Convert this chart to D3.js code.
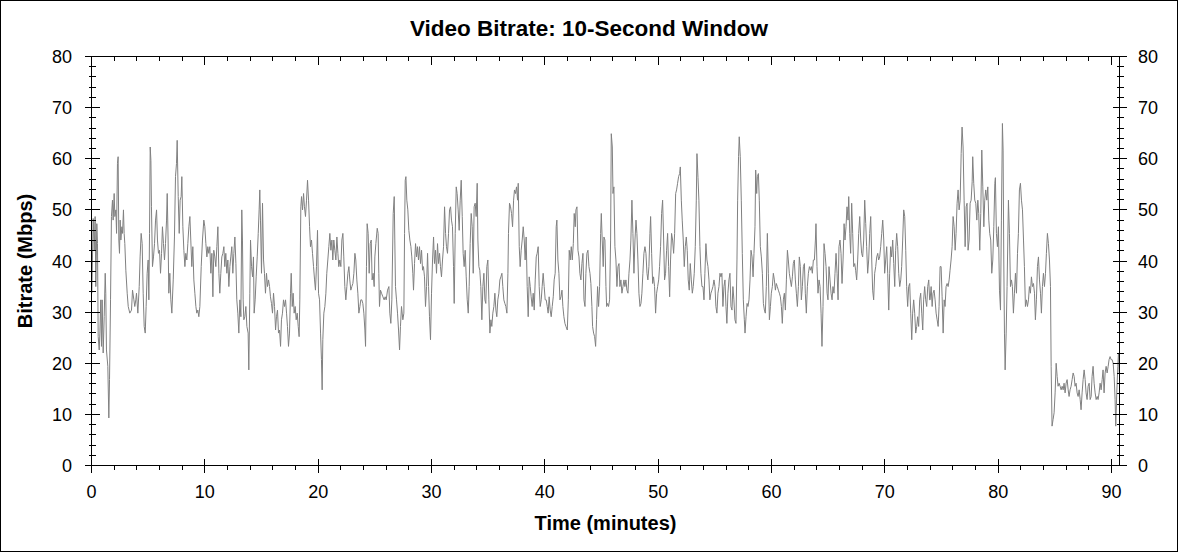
<!DOCTYPE html>
<html>
<head>
<meta charset="utf-8">
<script src="https://cdn.jsdelivr.net/npm/d3@7"></script>
<style>
  body { margin: 0; background: #fff; }
  svg { display: block; font-family: "Liberation Sans", Arial, sans-serif; }
</style>
</head>
<body>
<div id="chart"></div>
<script>
// time in minutes
const minutes = [
  0.03,0.15,0.24,0.32,0.38,0.47,0.53,0.59,0.68,0.74,0.82,0.88,0.94,1.03,1.12,1.21,1.26,1.32,1.44,1.53,
  1.59,1.68,1.76,1.85,1.91,2.00,2.06,2.15,2.21,2.29,2.35,2.41,2.47,2.53,2.59,2.68,2.74,2.82,2.88,2.94,
  3.03,3.15,3.24,3.38,3.53,3.62,3.74,3.82,3.91,3.97,4.09,4.21,4.29,4.38,4.47,4.56,4.65,4.74,4.82,4.91,
  5.00,5.06,5.12,5.18,5.24,5.29,5.38,5.47,5.56,5.65,5.74,5.82,5.91,6.00,6.09,6.18,6.26,6.35,6.44,6.53,
  6.62,6.68,6.76,6.82,6.91,7.00,7.09,7.21,7.32,7.41,7.50,7.56,7.65,7.74,7.82,7.91,7.97,8.06,8.15,8.24,
  8.32,8.41,8.50,8.59,8.68,8.76,8.85,8.94,9.03,9.12,9.21,9.29,9.38,9.47,9.56,9.68,9.79,9.91,10.00,10.09,
  10.18,10.26,10.35,10.44,10.53,10.62,10.71,10.79,10.88,10.97,11.06,11.15,11.24,11.32,11.41,11.50,11.59,11.68,11.76,11.85,
  11.94,12.03,12.12,12.21,12.29,12.38,12.47,12.56,12.65,12.74,12.82,12.91,13.00,13.09,13.18,13.26,13.32,13.38,13.44,13.53,
  13.62,13.71,13.82,13.88,13.97,14.03,14.12,14.21,14.29,14.35,14.44,14.53,14.62,14.71,14.79,14.85,14.91,15.00,15.09,15.18,
  15.26,15.35,15.44,15.53,15.62,15.71,15.79,15.88,15.97,16.06,16.15,16.24,16.32,16.41,16.50,16.59,16.68,16.76,16.85,16.94,
  17.03,17.12,17.21,17.29,17.38,17.47,17.56,17.62,17.71,17.79,17.88,17.97,18.06,18.15,18.24,18.32,18.38,18.47,18.53,18.62,
  18.71,18.79,18.88,18.97,19.06,19.15,19.24,19.32,19.41,19.50,19.59,19.68,19.76,19.85,19.94,20.03,20.12,20.21,20.29,20.35,
  20.41,20.50,20.59,20.68,20.76,20.85,20.94,21.03,21.12,21.21,21.29,21.38,21.47,21.56,21.65,21.74,21.82,21.91,22.00,22.09,
  22.18,22.26,22.35,22.44,22.53,22.62,22.71,22.79,22.88,22.97,23.06,23.15,23.24,23.32,23.41,23.50,23.59,23.68,23.76,23.85,
  23.94,24.03,24.12,24.18,24.26,24.32,24.41,24.50,24.59,24.68,24.76,24.85,24.94,
  25.00,25.09,25.21,25.29,25.35,25.41,25.50,25.59,25.71,25.82,25.91,26.00,26.12,26.24,26.32,26.41,26.50,26.62,26.71,26.76,
  26.82,26.91,27.00,27.09,27.18,27.26,27.35,27.47,27.56,27.62,27.68,27.74,27.82,27.91,28.00,28.09,28.18,28.26,28.35,28.41,
  28.50,28.59,28.68,28.76,28.85,28.94,29.03,29.12,29.21,29.29,29.38,29.47,29.56,29.65,29.74,29.82,29.91,30.00,30.09,30.18,
  30.26,30.35,30.44,30.53,30.62,30.71,30.79,30.88,30.97,31.06,31.15,31.24,31.32,31.41,31.50,31.59,31.68,31.76,31.85,31.94,
  32.00,32.09,32.18,32.26,32.35,32.44,32.53,32.62,32.71,32.79,32.88,32.97,33.06,33.15,33.24,33.32,33.41,33.50,33.59,33.68,
  33.76,33.85,33.94,34.03,34.09,34.18,34.26,34.35,34.44,34.53,34.62,34.71,34.79,34.88,34.97,35.06,35.15,35.24,35.32,35.41,
  35.50,35.59,35.68,35.76,35.85,35.94,36.03,36.12,36.21,36.29,36.38,36.47,36.56,36.65,36.74,36.79,36.88,36.97,37.06,37.15,
  37.24,37.32,37.41,37.50,37.59,37.65,37.74,37.82,37.91,38.00,38.09,38.18,38.26,38.35,38.44,38.53,38.62,38.71,38.79,38.88,
  38.97,39.06,39.15,39.24,39.32,39.41,39.50,39.59,39.68,39.76,39.85,39.94,40.03,40.12,40.21,40.29,40.38,40.47,40.56,40.65,
  40.74,40.82,40.91,41.00,41.06,41.15,41.24,
  41.33,41.42,41.51,41.59,41.68,41.77,41.86,41.98,42.07,42.15,42.24,42.33,42.42,42.51,42.59,42.68,42.74,42.83,42.92,43.01,
  43.09,43.18,43.27,43.36,43.45,43.54,43.62,43.71,43.80,43.89,43.98,44.06,44.15,44.21,44.30,44.39,44.48,44.56,44.65,44.74,
  44.83,44.92,44.98,45.06,45.15,45.21,45.30,45.39,45.45,45.54,45.62,45.71,45.80,45.86,45.95,46.01,46.09,46.18,46.27,46.36,
  46.45,46.54,46.62,46.71,46.80,46.89,46.98,47.06,47.15,47.24,47.33,47.42,47.51,47.59,47.68,47.77,47.86,47.95,48.04,48.12,
  48.21,48.30,48.39,48.48,48.56,48.65,48.74,48.83,48.92,49.01,49.09,49.18,49.27,49.33,49.42,49.51,49.59,49.68,49.77,49.86,
  49.95,50.04,50.12,50.21,50.30,50.39,50.48,50.56,50.65,50.74,50.83,50.92,51.01,51.09,51.18,51.27,51.36,51.45,51.54,51.62,
  51.71,51.80,51.89,51.95,52.04,52.12,52.21,52.30,52.39,52.48,52.56,52.65,52.74,52.83,52.92,53.01,53.09,53.18,53.27,53.36,
  53.42,53.51,53.59,53.68,53.77,53.86,53.95,54.04,54.12,54.21,54.30,54.39,54.48,54.56,54.65,54.74,54.83,54.92,55.01,55.09,
  55.18,55.27,55.36,55.45,55.54,55.62,55.71,55.80,55.89,55.98,56.06,56.15,56.24,56.33,56.42,56.51,56.59,56.68,56.77,56.86,
  56.95,57.01,57.09,57.15,57.24,57.33,57.42,57.51,57.60,
  57.66,57.75,57.84,57.92,58.01,58.10,58.19,58.28,58.37,58.45,58.54,58.60,58.69,58.75,58.84,58.92,59.01,59.10,59.19,59.28,
  59.37,59.45,59.54,59.63,59.72,59.81,59.90,59.98,60.07,60.16,60.25,60.34,60.42,60.51,60.60,60.69,60.78,60.87,60.95,61.04,
  61.13,61.22,61.31,61.40,61.48,61.57,61.66,61.75,61.84,61.92,62.01,62.10,62.19,62.28,62.37,62.45,62.54,62.63,62.72,62.81,
  62.90,62.98,63.07,63.16,63.25,63.34,63.43,63.51,63.60,63.69,63.78,63.87,63.92,64.01,64.10,64.19,64.28,64.37,64.45,64.54,
  64.63,64.72,64.81,64.90,64.98,65.07,65.16,65.25,65.34,65.42,65.51,65.60,65.69,65.78,65.87,65.95,66.04,66.13,66.22,66.31,
  66.40,66.48,66.57,66.66,66.75,66.81,66.90,66.98,67.07,67.16,67.25,67.34,67.42,67.51,67.60,67.69,67.78,67.87,67.95,68.04,
  68.13,68.22,68.31,68.39,68.48,68.57,68.66,68.75,68.84,68.92,69.01,69.10,69.19,69.28,69.37,69.45,69.54,69.63,69.72,69.81,
  69.90,69.98,70.07,70.16,70.25,70.34,70.42,70.51,70.60,70.69,70.78,70.87,70.95,71.04,71.13,71.22,71.31,71.40,71.48,71.57,
  71.66,71.75,71.84,71.92,72.01,72.10,72.19,72.28,72.37,72.45,72.54,72.63,72.72,72.81,72.89,72.98,73.07,73.16,73.25,73.34,
  73.42,73.51,73.60,73.69,73.78,73.87,73.95,
  73.99,74.08,74.17,74.25,74.34,74.43,74.52,74.61,74.70,74.78,74.87,74.96,75.05,75.14,75.23,75.31,75.40,75.49,75.58,75.67,
  75.75,75.84,75.93,76.02,76.11,76.20,76.28,76.37,76.46,76.55,76.64,76.73,76.81,76.90,76.99,77.08,77.17,77.25,77.34,77.43,
  77.52,77.61,77.70,77.75,77.84,77.93,78.02,78.11,78.20,78.28,78.37,78.46,78.55,78.64,78.73,78.81,78.90,78.99,79.08,79.17,
  79.25,79.34,79.43,79.52,79.61,79.70,79.75,79.84,79.93,80.02,80.11,80.20,80.28,80.37,80.43,80.49,80.55,80.61,80.70,80.78,
  80.90,80.99,81.08,81.17,81.25,81.34,81.43,81.52,81.61,81.70,81.78,81.87,81.96,82.05,82.14,82.23,82.31,82.40,82.49,82.58,
  82.67,82.75,82.84,82.93,83.02,83.11,83.20,83.28,83.37,83.46,83.55,83.64,83.73,83.81,83.90,83.99,84.08,84.17,84.25,84.34,
  84.43,84.52,84.61,84.67,84.75,84.84,84.93,85.02,85.11,85.20,85.28,85.37,85.46,85.55,85.64,85.73,85.81,85.90,85.99,86.08,
  86.17,86.25,86.34,86.43,86.52,86.61,86.70,86.78,86.87,86.96,87.05,87.14,87.23,87.31,87.40,87.49,87.58,87.67,87.75,87.84,
  87.93,88.02,88.11,88.20,88.28,88.37,88.46,88.55,88.64,88.73,88.81,88.90,88.99,89.08,89.17,89.25,89.34,89.43,89.52,89.61,
  89.70,89.78,89.87,89.96,90.05,90.14,90.23,90.31,90.37,90.46,90.55,90.61,90.67
];

// video bitrate, Mbps, 10-second window
const mbps = [
  33.7,48.3,42.1,48.7,35.0,47.3,43.4,25.2,22.6,25.9,32.4,23.3,32.4,22.0,29.1,37.6,33.7,22.6,19.4,9.3,
  16.8,32.4,48.7,51.9,48.0,53.2,48.7,50.0,45.4,59.1,60.4,44.1,41.5,48.0,44.1,46.7,45.4,50.0,45.4,43.4,
  38.2,33.7,31.1,29.8,30.4,34.3,32.4,31.1,32.4,33.7,29.8,35.0,40.8,45.4,43.4,33.7,27.2,25.9,31.1,37.6,
  40.2,32.4,45.4,62.3,59.7,50.6,38.9,40.8,43.4,48.0,50.0,44.1,41.5,42.1,37.6,41.5,46.7,43.4,40.2,43.4,
  48.0,53.2,44.1,33.7,37.6,32.4,29.8,36.3,44.7,56.5,59.1,63.6,52.6,45.4,51.9,52.6,56.5,46.7,42.1,38.9,
  41.5,40.2,43.4,46.7,48.7,44.1,38.9,42.8,36.3,33.7,31.1,29.8,30.4,29.1,31.1,38.9,44.1,48.0,46.7,43.4,
  40.8,42.8,41.5,42.8,37.6,41.5,33.0,42.1,40.8,38.9,42.8,46.7,37.6,33.7,37.6,40.8,41.5,42.8,38.9,41.5,
  37.6,40.2,35.0,38.9,40.8,42.8,37.6,41.5,44.7,39.5,32.4,29.8,25.9,32.4,29.1,50.0,44.1,32.4,28.5,29.1,
  31.1,27.2,25.9,18.7,33.7,44.1,38.9,36.9,40.8,29.8,32.4,36.9,40.8,45.4,50.0,53.9,48.0,37.6,51.3,40.2,
  37.6,33.7,37.6,35.0,36.3,35.0,33.0,31.7,29.8,33.7,31.1,26.5,29.1,30.4,25.9,26.5,23.3,28.5,29.8,32.4,
  31.1,32.4,29.8,27.2,23.3,25.9,33.7,37.6,31.1,33.7,29.8,31.1,28.5,29.8,27.2,25.2,32.4,50.6,52.6,50.0,
  53.2,50.6,48.7,51.9,55.8,51.9,46.7,42.8,44.1,41.5,38.9,36.3,34.3,38.9,46.0,33.7,32.4,25.9,20.7,14.8,
  24.6,29.8,31.1,33.7,37.6,40.2,42.8,45.4,42.1,44.1,40.2,44.1,42.1,40.2,44.7,41.5,38.9,40.2,38.9,44.1,
  45.4,40.8,35.0,32.4,35.0,37.6,38.9,36.3,34.3,35.0,35.6,37.6,41.5,40.2,36.3,33.7,29.8,31.1,32.4,32.4,
  31.7,29.8,26.5,23.3,38.9,47.3,45.4,37.6,43.4,44.1,36.3,37.6,35.0,
  40.8,43.4,46.4,45.4,37.6,31.1,34.3,33.7,33.0,32.4,33.0,32.4,34.3,35.0,29.8,27.8,32.4,49.3,52.6,44.1,
  35.0,32.4,29.8,26.5,22.6,27.2,31.1,28.5,29.8,45.4,55.8,56.5,51.9,50.0,46.0,44.1,42.8,40.8,37.6,34.3,
  39.5,43.4,40.8,42.8,40.2,42.8,39.5,42.1,38.2,38.9,36.9,31.1,35.0,41.5,35.0,29.1,24.6,33.7,40.2,44.7,
  39.5,42.1,37.6,43.4,39.5,41.5,38.9,36.9,40.2,42.8,50.6,45.4,42.8,41.5,45.4,50.0,50.6,48.0,46.7,38.9,
  31.7,45.4,54.5,53.2,50.0,46.0,51.9,55.8,48.7,41.5,38.9,42.1,36.9,32.4,29.8,35.0,43.4,49.3,46.7,37.6,
  50.6,51.3,48.7,55.2,44.1,38.9,38.2,35.0,28.5,35.0,37.6,32.4,31.7,38.9,40.2,32.4,25.9,28.5,27.2,29.8,
  31.1,33.7,30.4,29.1,32.4,33.7,36.3,36.9,37.6,35.0,32.4,31.7,31.1,29.8,37.6,45.4,51.3,50.6,49.3,46.7,
  51.9,53.9,53.2,54.5,51.9,55.2,42.8,38.9,42.1,44.1,46.7,44.1,40.2,44.7,35.0,29.1,36.9,35.0,33.0,31.1,
  33.7,30.4,36.3,40.8,41.5,42.8,35.0,31.1,32.4,35.0,37.6,35.0,32.4,32.4,31.1,29.8,33.0,30.4,29.1,31.1,
  33.0,36.3,37.6,46.7,48.0,40.2,37.6,
  32.4,33.0,34.3,31.1,29.1,27.8,27.2,26.5,32.4,42.1,40.2,42.8,40.2,43.4,49.3,46.7,50.0,50.6,42.1,40.8,
  37.6,36.3,39.5,41.5,32.4,31.1,37.6,41.5,42.1,38.9,37.6,35.6,31.1,27.2,25.9,25.2,23.3,28.5,35.0,31.1,
  35.0,45.4,49.3,44.1,38.9,44.7,44.1,35.0,31.1,31.7,31.1,32.4,44.1,64.9,62.3,53.2,54.5,42.8,40.2,35.0,
  38.9,39.5,35.0,36.3,33.7,35.0,36.3,35.0,36.3,34.3,33.7,37.6,40.2,44.1,51.9,45.4,37.6,44.1,48.0,45.4,
  40.2,33.7,31.1,31.7,33.7,37.6,41.5,42.8,41.5,37.6,36.3,38.9,45.4,48.7,41.5,35.6,36.9,35.0,29.8,33.7,
  35.0,36.3,38.9,42.8,49.3,51.9,44.1,36.3,37.6,42.1,45.4,38.9,33.0,40.2,45.4,44.1,41.5,45.4,53.2,53.9,
  55.2,56.5,57.1,58.4,51.9,48.0,44.1,38.9,42.8,44.7,42.1,36.3,34.3,39.5,36.3,33.7,35.0,37.6,42.8,51.9,
  61.0,56.3,51.9,42.8,37.6,35.0,35.0,32.4,37.6,43.4,40.2,38.9,36.3,32.4,33.7,34.3,35.0,36.3,35.0,31.1,
  29.8,33.7,35.0,37.6,36.9,37.6,31.1,35.0,36.3,31.1,27.8,33.7,36.3,37.6,31.1,30.4,35.0,32.4,28.5,27.8,
  40.2,51.9,60.4,64.3,60.4,51.9,41.5,32.4,28.5,
  25.9,29.1,31.7,31.1,32.4,36.3,42.1,40.8,36.9,41.5,46.7,57.8,53.2,56.5,57.1,51.9,42.8,40.8,37.6,31.7,
  30.4,29.8,35.0,45.4,37.6,28.5,31.1,33.7,35.0,37.6,36.3,34.3,35.6,35.0,34.3,33.7,33.0,31.1,27.8,32.4,
  33.7,30.4,36.3,42.1,40.2,37.6,36.3,35.0,36.9,39.5,40.2,36.3,33.7,31.1,35.0,40.8,38.9,32.4,35.0,38.9,
  39.5,33.7,29.8,35.0,37.6,38.9,38.2,38.9,37.6,40.2,40.2,44.1,47.3,38.9,33.7,36.3,35.0,29.8,23.3,31.1,
  43.4,41.5,38.9,33.7,32.4,38.9,36.3,33.7,32.4,35.0,33.7,37.6,41.5,37.6,32.4,42.8,44.1,41.5,35.6,40.2,
  47.3,44.1,46.7,50.6,48.0,52.6,45.4,41.5,51.3,45.4,38.9,39.5,38.2,36.3,40.2,45.4,48.7,44.1,41.5,40.8,
  44.1,51.9,47.3,42.8,37.6,40.2,45.4,48.7,40.2,34.3,32.4,37.6,38.9,40.8,41.5,40.2,40.8,42.8,45.4,48.0,
  44.1,37.6,40.2,42.8,37.6,30.4,37.6,42.8,40.8,44.1,39.5,35.0,42.1,45.4,42.8,37.6,35.0,36.3,38.9,44.1,
  50.0,48.7,42.1,35.0,31.1,35.0,35.6,29.8,24.6,29.8,32.4,29.8,25.9,27.2,29.1,27.2,32.4,33.7,29.8,26.5,
  32.4,35.0,32.4,31.1,35.0,36.3,32.4,
  32.4,35.0,31.1,33.7,34.3,32.4,29.8,28.5,27.2,31.1,38.9,38.9,33.0,25.9,32.4,31.1,35.0,35.6,35.0,36.3,
  38.2,40.2,42.8,48.7,46.7,42.1,45.4,51.3,53.9,50.0,51.9,61.0,66.2,62.3,51.9,42.8,50.6,51.3,42.1,44.1,
  51.3,51.9,55.5,60.4,55.2,51.9,51.3,48.0,51.9,49.3,42.1,49.3,61.7,54.5,46.7,51.9,53.9,51.9,54.5,48.0,
  45.4,44.1,37.6,40.2,46.7,55.2,56.3,45.4,42.8,46.7,34.3,30.4,48.0,66.9,61.7,40.2,25.9,18.7,25.9,35.0,
  51.9,45.4,35.0,36.3,35.0,29.8,33.7,37.6,33.7,41.5,45.4,53.9,55.2,51.9,50.0,44.1,38.9,31.1,32.4,31.1,
  32.4,35.0,33.7,36.9,35.0,35.6,33.7,28.5,32.4,38.9,40.8,36.3,33.7,29.8,35.0,37.6,35.0,37.6,41.5,45.4,
  43.4,40.2,35.0,19.4,7.7,9.0,10.3,14.2,20.0,17.4,15.5,16.1,15.5,14.8,15.5,14.8,16.1,14.2,16.1,16.8,
  14.8,13.5,14.8,15.5,16.8,18.1,17.4,15.5,16.1,14.2,13.5,14.8,12.9,10.9,14.2,16.8,18.7,16.8,14.2,12.9,
  15.5,16.1,12.9,13.5,17.4,19.4,16.1,14.2,12.9,13.5,12.9,14.2,16.1,14.8,16.8,18.7,14.2,18.1,19.4,18.1,
  19.4,20.7,21.3,20.7,20.7,20.0,17.4,12.9,7.7,14.2,19.4,22.0,18.1
];

const xTicks = [0, 10, 20, 30, 40, 50, 60, 70, 80, 90];
const yTicks = [0, 10, 20, 30, 40, 50, 60, 70, 80];

const width = 1178, height = 552;
const plot = { left: 91.5, right: 1119.5, top: 56.5, bottom: 465.5 };

const svg = d3.select("#chart").append("svg")
    .attr("width", width)
    .attr("height", height);

svg.append("rect")
    .attr("x", 0.5).attr("y", 0.5)
    .attr("width", width - 1).attr("height", height - 1)
    .attr("fill", "#fff")
    .attr("stroke", "#000");

const x = d3.scaleLinear().domain([0, 90.7]).range([plot.left, plot.right]);
const y = d3.scaleLinear().domain([0, 80]).range([plot.bottom, plot.top]);

// minor ticks every 2 units
const xMinor = d3.range(0, 91, 2).filter(v => v % 10 !== 0);
const yMinor = d3.range(0, 81, 2).filter(v => v % 10 !== 0);

svg.append("clipPath").attr("id", "clip")
  .append("rect")
    .attr("x", plot.left).attr("y", plot.top)
    .attr("width", plot.right - plot.left)
    .attr("height", plot.bottom - plot.top);

// the bitrate trace
const line = d3.line()
    .x((d, i) => x(minutes[i]))
    .y(d => y(d));

svg.append("path")
    .datum(mbps)
    .attr("clip-path", "url(#clip)")
    .attr("fill", "none")
    .attr("stroke", "#808080")
    .attr("stroke-width", 1)
    .attr("d", line);

// frame + ticks
const axes = svg.append("g")
    .attr("stroke", "#000")
    .attr("stroke-width", 1)
    .attr("shape-rendering", "crispEdges");

axes.append("rect")
    .attr("x", plot.left).attr("y", plot.top)
    .attr("width", plot.right - plot.left)
    .attr("height", plot.bottom - plot.top)
    .attr("fill", "none");

const tick = (x1, y1, x2, y2) => {
    axes.append("line")
        .attr("x1", x1).attr("y1", y1)
        .attr("x2", x2).attr("y2", y2);
};

// left / right
yTicks.forEach(v => {
    const py = Math.round(y(v) - 0.5) + 0.5;
    tick(plot.left - 7, py, plot.left + 8, py);
    tick(plot.right - 7, py, plot.right + 7, py);
});
yMinor.forEach(v => {
    const py = Math.round(y(v) - 0.5) + 0.5;
    tick(plot.left - 3, py, plot.left + 4, py);
    tick(plot.right - 3, py, plot.right + 4, py);
});

// bottom / top
xTicks.forEach(v => {
    const px = Math.round(x(v) - 0.5) + 0.5;
    tick(px, plot.bottom - 7, px, plot.bottom + 7);
    tick(px, plot.top, px, plot.top + 8);
});
xMinor.forEach(v => {
    const px = Math.round(x(v) - 0.5) + 0.5;
    tick(px, plot.bottom, px, plot.bottom + 4);
    tick(px, plot.top, px, plot.top + 4);
});

// tick labels
const labels = svg.append("g")
    .attr("font-size", 18)
    .attr("fill", "#000");

yTicks.forEach(v => {
    labels.append("text")
        .attr("x", 72).attr("y", y(v) + 6.5)
        .attr("text-anchor", "end")
        .text(v);
    labels.append("text")
        .attr("x", 1138).attr("y", y(v) + 6.5)
        .attr("text-anchor", "start")
        .text(v);
});
xTicks.forEach(v => {
    labels.append("text")
        .attr("x", x(v)).attr("y", 498)
        .attr("text-anchor", "middle")
        .text(v);
});

// titles
svg.append("text")
    .attr("x", 589).attr("y", 35.5)
    .attr("text-anchor", "middle")
    .attr("font-size", 22.5)
    .attr("font-weight", "bold")
    .text("Video Bitrate: 10-Second Window");

svg.append("text")
    .attr("x", (plot.left + plot.right) / 2).attr("y", 530)
    .attr("text-anchor", "middle")
    .attr("font-size", 20)
    .attr("font-weight", "bold")
    .text("Time (minutes)");

svg.append("text")
    .attr("transform", "translate(32," + ((plot.top + plot.bottom) / 2) + ") rotate(-90)")
    .attr("text-anchor", "middle")
    .attr("font-size", 20)
    .attr("font-weight", "bold")
    .text("Bitrate (Mbps)");
</script>
</body>
</html>
